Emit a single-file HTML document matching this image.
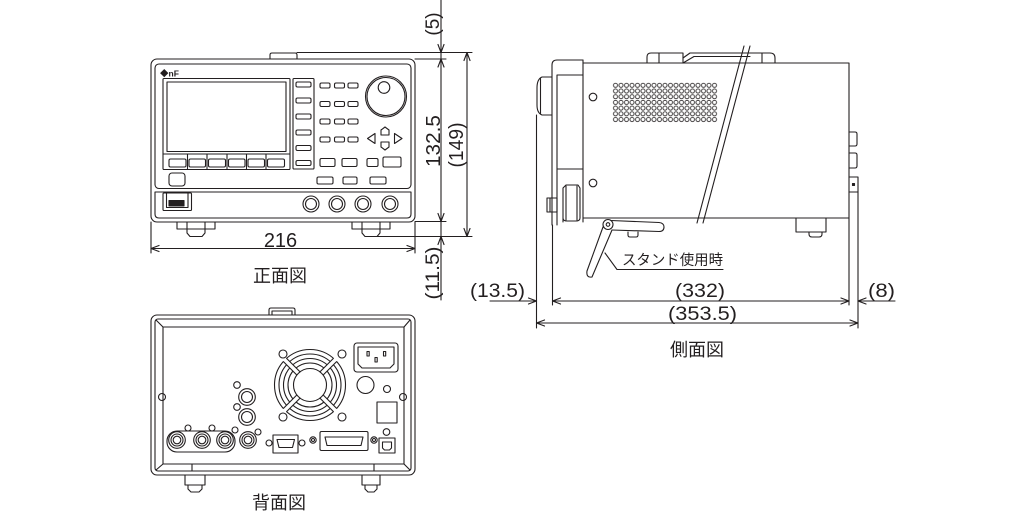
<!DOCTYPE html>
<html><head><meta charset="utf-8">
<style>
html,body{margin:0;padding:0;background:#fff;}
svg{display:block;}
text{font-family:"Liberation Sans","Noto Sans CJK JP",sans-serif;fill:#231f20;stroke:none;}
</style></head><body>
<svg width="1024" height="524" viewBox="0 0 1024 524" xmlns="http://www.w3.org/2000/svg">
<defs>
<pattern id="vent" x="612.75" y="82.45" width="5.5" height="5.7" patternUnits="userSpaceOnUse">
<circle cx="2.75" cy="2.85" r="2.05" fill="none" stroke="#231f20" stroke-width="0.85"/>
</pattern>
</defs>
<g fill="none" stroke="#231f20" stroke-width="1.1" stroke-linejoin="round" stroke-linecap="round">

<!-- ================= FRONT VIEW ================= -->
<path d="M270 59V55Q270 53 272 53H295Q297 53 297 55V59"/>
<rect x="151" y="59" width="264" height="163" rx="6"/>
<rect x="155" y="64" width="256" height="124.5" rx="4"/>
<path d="M155 192H411V214Q411 218 407 218H159Q155 218 155 214Z"/>
<!-- screen -->
<rect x="163" y="78.5" width="127" height="91" rx="1"/>
<rect x="167" y="82" width="119" height="69.5"/>
<line x1="163" y1="154" x2="290" y2="154"/>
<path d="M187.5 154V169.5M207 154V169.5M227 154V169.5M246.5 154V169.5M266 154V169.5"/>
<rect x="169" y="159" width="17" height="8" rx="1.5"/>
<rect x="189" y="159" width="16.5" height="8" rx="1.5"/>
<rect x="208.5" y="159" width="17" height="8" rx="1.5"/>
<rect x="228.5" y="159" width="16.5" height="8" rx="1.5"/>
<rect x="248" y="159" width="16.5" height="8" rx="1.5"/>
<rect x="267.5" y="159" width="17" height="8" rx="1.5"/>
<!-- small button -->
<rect x="169" y="173" width="16" height="13" rx="3"/>
<!-- right column -->
<rect x="293" y="78.5" width="21" height="90.5" rx="1"/>
<rect x="296" y="82" width="15" height="5" rx="1.5"/>
<rect x="296" y="98" width="15" height="5" rx="1.5"/>
<rect x="296" y="114" width="15" height="5" rx="1.5"/>
<rect x="296" y="130" width="15" height="5" rx="1.5"/>
<rect x="296" y="145.5" width="15" height="5" rx="1.5"/>
<rect x="296" y="160.5" width="15" height="5" rx="1.5"/>
<!-- grid keys -->
<rect x="320" y="83" width="10" height="5" rx="1.5"/><rect x="334.5" y="83" width="10" height="5" rx="1.5"/><rect x="348" y="83" width="10" height="5" rx="1.5"/>
<rect x="320" y="101.5" width="10" height="5" rx="1.5"/><rect x="334.5" y="101.5" width="10" height="5" rx="1.5"/><rect x="348" y="101.5" width="10" height="5" rx="1.5"/>
<rect x="320" y="119" width="10" height="5" rx="1.5"/><rect x="334.5" y="119" width="10" height="5" rx="1.5"/><rect x="348" y="119" width="10" height="5" rx="1.5"/>
<rect x="320" y="137" width="10" height="5" rx="1.5"/><rect x="334.5" y="137" width="10" height="5" rx="1.5"/><rect x="348" y="137" width="10" height="5" rx="1.5"/>
<!-- knob -->
<circle cx="386" cy="96.5" r="20.5"/>
<circle cx="386" cy="96.5" r="19"/>
<circle cx="384" cy="87.5" r="5.8"/>
<!-- arrows -->
<path d="M367.5 138.5L375 133.5V143.5Z"/>
<path d="M402 138.5L394.5 133.5V143.5Z"/>
<path d="M381 135V130L385 127L389 130V135Z"/>
<path d="M381 142V147L385 150L389 147V142Z"/>
<!-- bottom keys -->
<rect x="320" y="158.5" width="15" height="8" rx="1.5"/>
<rect x="342" y="158.5" width="15" height="8" rx="1.5"/>
<rect x="367" y="158.5" width="11" height="8" rx="1.5"/>
<rect x="383" y="157" width="18" height="10" rx="1.5"/>
<rect x="317" y="177" width="16" height="7" rx="1.5"/>
<rect x="343" y="177" width="14" height="7" rx="1.5"/>
<rect x="370" y="177" width="16" height="7" rx="1.5"/>
<!-- USB -->
<rect x="163" y="193" width="28.5" height="17.5" rx="1"/>
<path d="M166.5 193V207.5H188V193"/>
<rect x="169" y="200.5" width="15" height="5.5" fill="#231f20"/>
<!-- BNC front -->
<circle cx="311" cy="204" r="8"/><circle cx="311" cy="204" r="5.5"/>
<circle cx="337" cy="204" r="8"/><circle cx="337" cy="204" r="5.5"/>
<circle cx="363" cy="204" r="8"/><circle cx="363" cy="204" r="5.5"/>
<circle cx="390" cy="204" r="8"/><circle cx="390" cy="204" r="5.5"/>
<!-- feet -->
<rect x="177" y="222" width="38" height="7"/>
<path d="M187 222V229M205 222V229"/>
<path d="M187 229V233L190 236.5H202L205 233V229"/>
<rect x="352" y="222" width="38" height="7"/>
<path d="M362 222V229M380 222V229"/>
<path d="M362 229V233L365 236.5H377L380 233V229"/>

<!-- front dimensions -->
<path d="M151 222V253M415 222V253"/>
<path d="M151 248.5H415"/>
<path d="M159 245.5L151 248.5L159 251.5M407 245.5L415 248.5L407 251.5"/>
<path d="M297 52.5H472M415 59H446M415 221.5H446M372 236.5H472"/>
<path d="M441 0V300"/>
<path d="M438 44.5L441 52.5L444 44.5M438 67L441 59L444 67M438 213.5L441 221.5L444 213.5M438 244.5L441 236.5L444 244.5"/>
<path d="M467 52.5V236.5"/>
<path d="M464 60.5L467 52.5L470 60.5M464 228.5L467 236.5L470 228.5"/>

<!-- ================= SIDE VIEW ================= -->
<!-- handle -->
<path d="M647 63V57Q647 53 651 53H683V63M659 53V63"/>
<path d="M683 63L694 56.5H750M683 58L690 53H750"/>
<path d="M750 53H770Q775 53 775 58V63M762 53V63"/>
<!-- body -->
<path d="M583 63H849V218H583"/>
<!-- front panel -->
<path d="M583 60H557Q552 60 552 65V225"/>
<path d="M583 60V222"/>
<path d="M557 75V225M557 75H583M557 169H583"/>
<!-- knob -->
<path d="M552 77H542Q537 79 537 88V105Q537 113 542 115H552"/>
<path d="M540.5 78.5V113.5"/>
<!-- lower bracket -->
<path d="M563 222V188L566 185H578L580 188V218Q580 221 576 221H567Q563 221 563 218"/>
<path d="M566 186V220M577 186V220"/>
<!-- BNC side -->
<rect x="547" y="198" width="10" height="14"/>
<path d="M550 198V212"/>
<!-- vents -->
<rect x="612.75" y="82.45" width="104.5" height="39.9" fill="url(#vent)" stroke="none"/>
<circle cx="593" cy="97" r="3.8"/>
<circle cx="593" cy="183" r="3.8"/>
<!-- rear connectors -->
<path d="M849 132H855Q857 132 857 134V144Q857 146 855 146H849"/>
<path d="M849 153H855Q857 153 857 155V166Q857 168 855 168H849"/>
<path d="M849 177H858V192H849"/>
<rect x="852.5" y="183.5" width="2" height="2" fill="#231f20"/>
<!-- right foot -->
<rect x="796" y="218" width="30" height="14"/>
<path d="M809 232V234Q809 237 812 237H819Q822 237 822 234V232"/>
<!-- front foot under stand -->
<path d="M628 232V235Q628 237 630 237H636Q638 237 638 235V232"/>
<!-- break lines -->
<path d="M744 46L697 223M750 46L703 223"/>
<!-- stand -->
<path d="M603 227L587 271Q586 278 592 277L612 230" fill="#fff"/>
<path d="M611 220.5L659 222.5Q664 223 664 227Q664 231.5 659 231.5L612 230" fill="#fff"/>
<circle cx="608" cy="224.5" r="5" fill="#fff"/>
<circle cx="608" cy="224.5" r="1.8"/>
<!-- leader -->
<path d="M605 253L617 269.5H723"/>
<!-- side dims -->
<path d="M536.5 115V328M552.5 225V305M849 218V305M858 192V328"/>
<path d="M490 301H536.5M552.5 301H849M858 301H895"/>
<path d="M528.5 298L536.5 301L528.5 304M560.5 298L552.5 301L560.5 304M841 298L849 301L841 304M866 298L858 301L866 304"/>
<path d="M536.5 323H858"/>
<path d="M544.5 320L536.5 323L544.5 326M850 320L858 323L850 326"/>

<!-- ================= BACK VIEW ================= -->
<path d="M269 315V310Q269 308 271 308H293Q295 308 295 310V315M272 315V311H292V315"/>
<rect x="151" y="315" width="264" height="160" rx="6"/>
<rect x="155" y="319" width="256" height="152" rx="3"/>
<rect x="163" y="327" width="241" height="137"/>
<path d="M156 320L163 327M410 320L404 327M156 470L163 464M410 470L404 464"/>
<circle cx="162" cy="397" r="3.5"/>
<circle cx="403" cy="397" r="3.5"/>
<!-- fan -->
<circle cx="310" cy="385" r="35.5"/>
<circle cx="310" cy="385" r="31"/>
<circle cx="310" cy="385" r="26.5"/>
<circle cx="310" cy="385" r="22"/>
<path d="M285 360L335 410M335 360L285 410" stroke="#fff" stroke-width="5"/>
<path d="M286.6 358.4L311.6 383.4M308.4 386.6L333.4 411.6M283.4 361.6L308.4 386.6M311.6 383.4L336.6 408.4"/>
<path d="M333.4 358.4L308.4 383.4M311.6 386.6L286.6 411.6M336.6 361.6L311.6 386.6M308.4 383.4L283.4 408.4"/>
<circle cx="310" cy="385" r="16.5" fill="#fff"/>
<circle cx="283" cy="354" r="4"/><circle cx="342" cy="354" r="4"/>
<circle cx="283" cy="417" r="4"/><circle cx="342" cy="417" r="4"/>
<!-- AC inlet -->
<rect x="354" y="343" width="44" height="29" rx="3"/>
<path d="M358 347H394V364L390 368H362L358 364Z"/>
<rect x="367" y="351.5" width="2.2" height="4.5"/>
<rect x="383.5" y="351.5" width="2.2" height="4.5"/>
<rect x="375" y="357.5" width="2.2" height="4.5"/>
<circle cx="365.5" cy="385" r="8.5"/>
<circle cx="387" cy="389" r="3.5"/>
<rect x="377" y="402" width="20" height="21"/>
<circle cx="386.5" cy="432" r="3.3"/>
<rect x="379" y="438" width="16" height="15"/>
<path d="M382.5 442H391.5V448L389.5 450H384.5L382.5 448Z"/>
<!-- GPIB -->
<rect x="320" y="431.5" width="48" height="19" rx="1.5"/>
<path d="M325 437H363L361 445.5H327Z"/>
<circle cx="313" cy="440" r="3.2"/><circle cx="313" cy="440" r="1.5"/>
<circle cx="374" cy="440" r="3.2"/><circle cx="374" cy="440" r="1.5"/>
<!-- DSub -->
<rect x="273" y="435" width="25" height="18"/>
<path d="M277 439.5H294.5L292.5 447.5H279Z"/>
<circle cx="269" cy="443" r="3"/>
<circle cx="302" cy="443" r="3"/>
<!-- BNC column -->
<circle cx="237" cy="385" r="3.3"/>
<circle cx="247" cy="397" r="8.3"/><circle cx="247" cy="397" r="5.5"/>
<circle cx="237" cy="407" r="3.3"/>
<circle cx="247" cy="417" r="8.3"/><circle cx="247" cy="417" r="5.5"/>
<!-- bottom BNCs -->
<rect x="167" y="431" width="68" height="21" rx="10"/>
<circle cx="188" cy="428" r="3" fill="#fff"/>
<circle cx="212" cy="428" r="3" fill="#fff"/>
<circle cx="235" cy="430" r="3" fill="#fff"/>
<circle cx="258" cy="432" r="3" fill="#fff"/>
<circle cx="177" cy="440" r="8.3" fill="#fff"/><circle cx="177" cy="440" r="6"/><circle cx="177" cy="440" r="3.8"/>
<circle cx="202" cy="440" r="8.3" fill="#fff"/><circle cx="202" cy="440" r="6"/><circle cx="202" cy="440" r="3.8"/>
<circle cx="225" cy="440" r="8.3" fill="#fff"/><circle cx="225" cy="440" r="6"/><circle cx="225" cy="440" r="3.8"/>
<circle cx="248" cy="440" r="8.3" fill="#fff"/><circle cx="248" cy="440" r="6"/><circle cx="248" cy="440" r="3.8"/>
<!-- back feet -->
<path d="M192 464V471M374 464V471"/>
<rect x="185" y="475" width="20" height="10"/>
<path d="M188 485V489L191 492H199L202 489V485"/>
<rect x="362" y="475" width="18" height="10"/>
<path d="M365 485V489L368 492H374L377 489V485"/>
</g>

<!-- ================= TEXT ================= -->
<text x="160" y="76.5" font-size="8.5" font-weight="bold">◆nF</text>
<text x="280.5" y="247" font-size="20" text-anchor="middle">216</text>
<text x="280" y="282" font-size="18" text-anchor="middle">正面図</text>
<text transform="translate(440,141) rotate(-90)" font-size="20" text-anchor="middle" textLength="52" lengthAdjust="spacingAndGlyphs">132.5</text>
<text transform="translate(463,145) rotate(-90)" font-size="20" text-anchor="middle" textLength="45" lengthAdjust="spacingAndGlyphs">(149)</text>
<text transform="translate(439,24) rotate(-90)" font-size="19" text-anchor="middle">(5)</text>
<text transform="translate(439,273) rotate(-90)" font-size="19" text-anchor="middle" textLength="53" lengthAdjust="spacingAndGlyphs">(11.5)</text>
<text x="622" y="265" font-size="14.5" textLength="101" lengthAdjust="spacingAndGlyphs">スタンド使用時</text>
<text x="497.5" y="297" font-size="19" text-anchor="middle" textLength="55" lengthAdjust="spacingAndGlyphs">(13.5)</text>
<text x="700" y="297" font-size="19" text-anchor="middle" textLength="50" lengthAdjust="spacingAndGlyphs">(332)</text>
<text x="881.5" y="297" font-size="19" text-anchor="middle" textLength="27" lengthAdjust="spacingAndGlyphs">(8)</text>
<text x="702.5" y="320" font-size="19" text-anchor="middle" textLength="69" lengthAdjust="spacingAndGlyphs">(353.5)</text>
<text x="697" y="356" font-size="18" text-anchor="middle">側面図</text>
<text x="279" y="509" font-size="18" text-anchor="middle">背面図</text>
</svg>
</body></html>
